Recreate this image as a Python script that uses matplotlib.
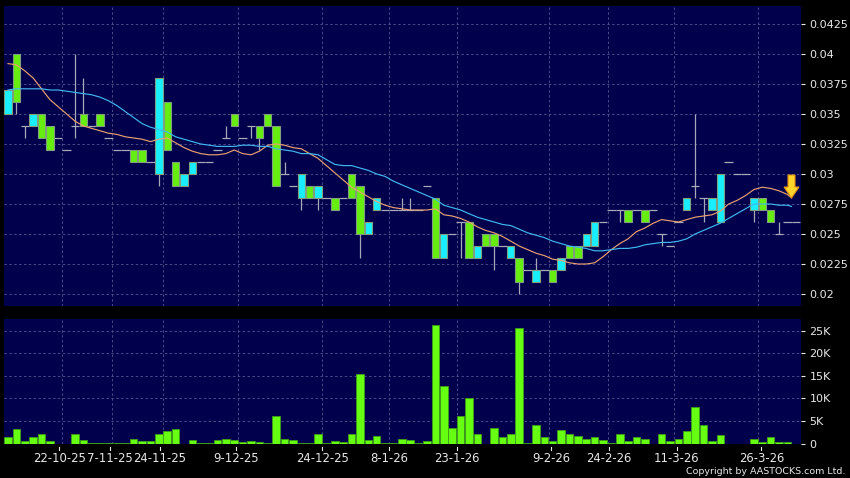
import matplotlib
matplotlib.use("Agg")
import matplotlib.pyplot as plt
from matplotlib.patches import Polygon
import numpy as np

plt.rcParams['font.family'] = ['DejaVu Sans']

opens = [.035,.04,.034,.034,.035,.034,.033,.032,.034,.035,.034,.035,.033,.032,.032,.032,.032,.031,.03,.036,
         .031,.029,.03,.031,.031,.032,.033,.035,.033,.034,.034,.035,.034,.03,.029,.028,.029,.028,.028,.028,
         .028,.03,.029,.025,.027,.027,.027,.027,.027,.027,.029,.028,.023,.025,.026,.026,.023,.025,.025,.024,
         .023,.023,.022,.021,.022,.022,.022,.024,.024,.024,.024,.026,.027,.027,.027,.027,.027,.027,.025,.024,
         .026,.027,.029,.028,.027,.026,.031,.03,.03,.027,.028,.027,.025,.026,.026]
closes = [.037,.036,.034,.035,.033,.032,.033,.032,.034,.034,.034,.034,.033,.032,.032,.031,.031,.031,.038,.032,
          .029,.03,.031,.031,.031,.032,.033,.034,.033,.034,.033,.034,.029,.03,.029,.03,.028,.029,.028,.027,
          .028,.028,.025,.026,.028,.027,.027,.027,.027,.027,.029,.023,.025,.025,.026,.023,.024,.024,.024,.024,
          .024,.021,.022,.022,.022,.021,.023,.023,.023,.025,.026,.026,.027,.027,.026,.027,.026,.027,.025,.024,
          .026,.028,.029,.028,.028,.03,.031,.03,.03,.028,.027,.026,.025,.026,.026]
highs = [.037,.04,.034,.035,.035,.034,.033,.032,.04,.038,.034,.035,.033,.032,.032,.032,.032,.031,.038,.036,
         .031,.03,.031,.031,.031,.032,.034,.035,.033,.034,.034,.035,.034,.031,.029,.03,.029,.029,.028,.028,
         .028,.03,.029,.026,.028,.027,.027,.028,.028,.027,.029,.028,.025,.025,.026,.026,.024,.025,.025,.024,
         .024,.023,.022,.023,.022,.022,.023,.024,.024,.025,.026,.026,.027,.027,.027,.027,.027,.027,.025,.024,
         .026,.028,.035,.028,.028,.03,.031,.03,.03,.028,.028,.027,.026,.026,.026]
lows = [.035,.035,.033,.034,.033,.032,.033,.032,.033,.034,.034,.034,.033,.032,.032,.031,.031,.031,.029,.032,
        .029,.029,.03,.031,.031,.032,.033,.034,.033,.033,.032,.034,.029,.03,.029,.027,.028,.027,.028,.027,
        .028,.028,.023,.025,.027,.027,.027,.027,.027,.027,.029,.023,.023,.025,.023,.023,.023,.024,.022,.024,
        .023,.02,.022,.021,.022,.021,.022,.023,.023,.024,.024,.026,.027,.026,.026,.027,.026,.027,.024,.024,
        .026,.027,.028,.026,.027,.026,.031,.03,.03,.026,.027,.026,.025,.026,.026]
ma_fast = [.0392,.0391,.0386,.038,.0371,.0362,.0356,.035,.0344,.034,.0338,.0336,.0334,.0333,.0331,.033,.0329,.0327,.0329,.033,
           .0326,.0322,.0319,.0317,.0316,.0316,.0317,.032,.0317,.0316,.0319,.0324,.0325,.0324,.0322,.0321,.0317,.0313,.0307,.0301,
           .0295,.0289,.0285,.0281,.0277,.0274,.0272,.0271,.027,.027,.027,.0271,.0266,.0265,.0263,.026,.0256,.0253,.0251,.0248,
           .0244,.024,.0237,.0234,.0232,.0229,.0228,.0226,.0225,.0225,.0226,.0231,.0237,.0242,.0246,.0252,.0255,.0259,.0262,.0261,
           .026,.0262,.0264,.0265,.0266,.0269,.0275,.0278,.0282,.0287,.0289,.0288,.0286,.0283,.028]
ma_slow = [.037,.0371,.0371,.0371,.0371,.037,.037,.0369,.0368,.0367,.0366,.0364,.0361,.0357,.0352,.0347,.0342,.0339,.0337,.0335,
           .0331,.0329,.0327,.0325,.0324,.0323,.0323,.0323,.0324,.0324,.0323,.0323,.0321,.032,.0319,.0317,.0317,.0316,.0312,.0308,
           .0307,.0307,.0305,.0303,.03,.0298,.0294,.0291,.0288,.0285,.0282,.0279,.0274,.0272,.027,.0267,.0264,.0262,.026,.0258,
           .0257,.0254,.0251,.0249,.0247,.0244,.0242,.024,.0239,.0238,.0236,.0236,.0237,.0238,.0238,.0239,.0241,.0242,.0243,.0243,
           .0244,.0246,.025,.0253,.0256,.0259,.0263,.0267,.0271,.0275,.0275,.0275,.0274,.0274,.0273]
ma_x = list(range(94)) + [93.5]
volumes = [1.4,3.3,.45,1.4,2.1,.45,0,0,2.0,.75,.02,.05,.05,.03,.2,1.0,.5,.45,2.0,2.7,
           3.2,0,.75,.03,.02,.75,1.05,.75,.35,.65,.35,.2,6.1,1.1,.75,.2,.03,2.1,.02,.45,
           .3,2.1,15.3,.8,1.6,.02,.02,.9,.75,.03,.45,26.2,12.7,3.4,6.2,10.1,2.1,0,3.5,1.4,
           2.1,25.5,.1,4.1,1.55,.45,2.9,2.1,1.7,1.0,1.4,.75,.2,2.1,.45,1.4,1.0,0,2.0,.5,
           1.1,2.75,8.05,4.1,.5,1.9,0,0,0,.9,.25,1.4,.3,.3,0]
price_ticks = [.02,.0225,.025,.0275,.03,.0325,.035,.0375,.04,.0425]
price_labels = ['0.02','0.0225','0.025','0.0275','0.03','0.0325','0.035','0.0375','0.04','0.0425']
vol_ticks = [0,5,10,15,20,25]
vol_labels = ['0','5K','10K','15K','20K','25K']
date_labels = ['22-10-25','7-11-25','24-11-25','9-12-25','24-12-25','8-1-26','23-1-26','9-2-26','24-2-26','11-3-26','26-3-26']
date_ticks = [6.1,12.2,18.1,27.2,37.5,45.5,53.6,64.8,71.7,79.8,89.9]
date_grid = [6.45,12.4,18.5,27.4,37.5,45.5,53.6,64.6,71.6,79.5,89.5]

BG = '#00004c'
GRID = '#4a4a88'
WICK = '#a8a8b8'
EDGE = '#7f9f7f'
GREEN = '#66ee11'
CYAN = '#19eeff'

W, H = 850, 478
fig = plt.figure(figsize=(8.5, 4.78), dpi=100, facecolor='black')
ax = fig.add_axes([4/W, (H-306)/H, 797/W, 300/H], facecolor=BG)
axv = fig.add_axes([4/W, (H-443.5)/H, 797/W, 124.5/H], facecolor=BG)

idx = np.arange(len(opens))
for a in (ax, axv):
    a.set_xlim(-0.477, 94.63)
    for s in a.spines.values():
        s.set_visible(False)
    a.set_axisbelow(True)
    a.yaxis.tick_right()
    a.grid(True, color=GRID, lw=0.7, ls=(0, (2.5, 2.5)))
    a.set_xticks(date_grid)
    a.tick_params(axis='x', length=0, labelbottom=False)
    a.tick_params(axis='y', colors='#e8e8e8', length=3, width=0.8, pad=3, labelsize=8)

ax.set_ylim(.019, .044)
ax.set_yticks(price_ticks, price_labels)
axv.set_ylim(0, 124.5/4.51)
axv.set_yticks(vol_ticks, vol_labels)

o, c, hi, lo = map(np.array, (opens, closes, highs, lows))
ax.vlines(idx, lo, hi, color=WICK, lw=0.9, zorder=2)
doji = o == c
ax.hlines(o[doji], idx[doji]-0.5, idx[doji]+0.5, color=WICK, lw=0.9, zorder=2)
up = c > o
dn = c < o
ax.bar(idx[up], (c-o)[up], bottom=o[up], width=0.88, color=CYAN, edgecolor=EDGE, lw=0.8, zorder=3)
ax.bar(idx[dn], (c-o)[dn], bottom=o[dn], width=0.88, color=GREEN, edgecolor=EDGE, lw=0.8, zorder=3)
ax.plot(ma_x, ma_fast, color='#e8a070', lw=0.85, zorder=4)
ax.plot(ma_x, ma_slow, color='#40b8f0', lw=0.85, zorder=4)

axv.bar(idx, volumes, width=0.9, color='#66ff11', edgecolor='#3f9f18', lw=0.6, zorder=3)

# latest-signal arrow, placed in figure pixels
def px(pts):
    return [(x/W, 1-y/H) for x, y in pts]
fig.add_artist(Polygon(px([(788, 175), (795, 175), (795, 187), (799, 187), (791.5, 198), (784, 187), (788, 187)]),
                       closed=True, transform=fig.transFigure, facecolor='#ffd52a', edgecolor='#e09010', lw=0.8, zorder=10))

# date tick marks and labels beneath the volume panel
trans = axv.get_xaxis_transform()
for t, lab in zip(date_ticks, date_labels):
    axv.plot([t, t], [-3.5/124.5, -6/124.5], transform=trans, color='#e8e8e8', lw=0.8, clip_on=False)
    axv.text(t, -14.5/124.5, lab, transform=trans, color='#e8e8e8', fontsize=8.4, ha='center', va='center')

fig.text(845/W, 1-471/H, 'Copyright by AASTOCKS.com Ltd.', color='#e8e8e8', fontsize=6.8, ha='right', va='center')

fig.savefig('out.png', dpi=100, facecolor='black')
